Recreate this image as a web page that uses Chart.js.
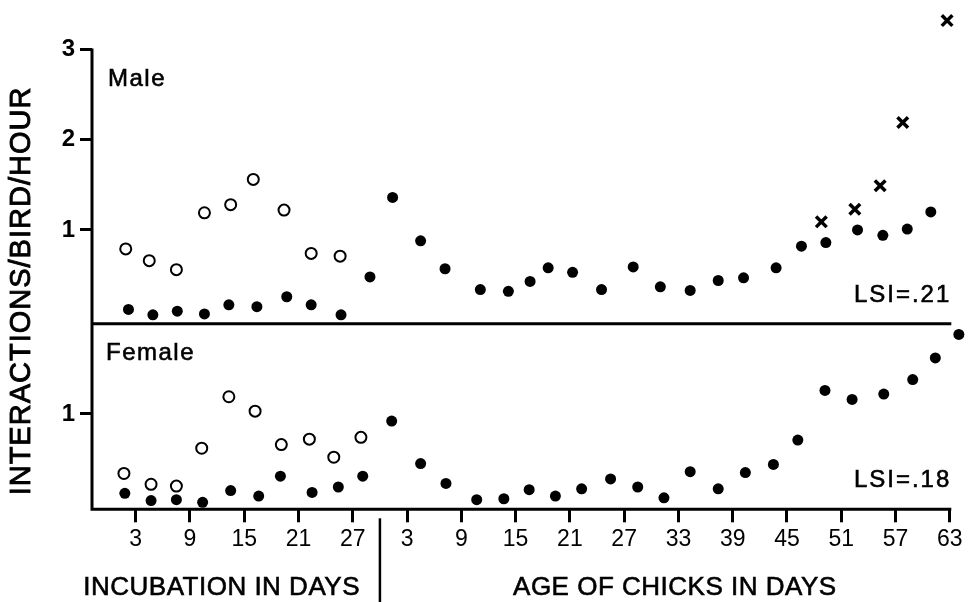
<!DOCTYPE html>
<html>
<head>
<meta charset="utf-8">
<title>Interactions per bird per hour</title>
<script src="https://cdn.jsdelivr.net/npm/chart.js@4.4.1/dist/chart.umd.min.js"></script>
<style>
  html, body { margin: 0; padding: 0; background: #fff; }
  #wrap { width: 974px; height: 602px; }
</style>
</head>
<body>
<div id="wrap"><canvas id="chart" width="974" height="602"></canvas></div>
<script>
// incubation runs to day 30, chick ages are plotted after it on the same axis
const HATCH = 30;
const FONT = "'Liberation Sans', Arial, Helvetica, sans-serif";

const incubationTicks = [3, 9, 15, 21, 27];
const chickTicks = [3, 9, 15, 21, 27, 33, 39, 45, 51, 57, 63];
const maleTicks = [1, 2, 3];
const femaleTicks = [1];

// ---- male ----
const maleIncOpenDays = [1.9, 4.5, 7.5, 10.6, 13.5, 16.0, 19.4, 22.4, 25.6];
const maleIncOpen = [0.79, 0.66, 0.56, 1.19, 1.28, 1.56, 1.22, 0.74, 0.71];
const maleIncDays = [2.2, 4.9, 7.6, 10.6, 13.3, 16.4, 19.7, 22.4, 25.7, 28.9];
const maleInc = [0.12, 0.06, 0.10, 0.07, 0.17, 0.15, 0.26, 0.17, 0.06, 0.48];
const maleChickDays = [1.4, 4.5, 7.2, 11.1, 14.2, 16.6, 18.6, 21.3, 24.5, 28.0, 31.0,
  34.3, 37.4, 40.2, 43.8, 46.6, 49.3, 52.8, 55.6, 58.3, 60.9];
const maleChick = [1.36, 0.88, 0.57, 0.34, 0.32, 0.43, 0.58, 0.53, 0.34, 0.59, 0.37,
  0.33, 0.44, 0.47, 0.58, 0.82, 0.86, 1.00, 0.94, 1.01, 1.20];
const maleCrossDays = [48.8, 52.5, 55.3, 57.8, 62.7];
const maleCross = [1.09, 1.23, 1.49, 2.19, 3.32];

// ---- female ----
const femaleIncOpenDays = [1.7, 4.7, 7.5, 10.3, 13.3, 16.2, 19.1, 22.2, 24.9, 27.9];
const femaleIncOpen = [0.34, 0.22, 0.20, 0.62, 1.19, 1.03, 0.66, 0.72, 0.52, 0.74];
const femaleIncDays = [1.8, 4.7, 7.5, 10.4, 13.5, 16.6, 19.0, 22.5, 25.4, 28.1];
const femaleInc = [0.12, 0.04, 0.05, 0.02, 0.15, 0.09, 0.31, 0.13, 0.19, 0.31];
const femaleChickDays = [1.3, 4.5, 7.3, 10.7, 13.7, 16.5, 19.4, 22.3, 25.5, 28.5, 31.4,
  34.3, 37.4, 40.4, 43.5, 46.2, 49.2, 52.2, 55.7, 58.9, 61.4, 64.0];
const femaleChick = [0.92, 0.45, 0.23, 0.05, 0.06, 0.16, 0.09, 0.17, 0.28, 0.19, 0.07,
  0.36, 0.17, 0.35, 0.44, 0.71, 1.26, 1.16, 1.22, 1.38, 1.62, 1.88];

function pts(days, values, offset) {
  return days.map((d, i) => ({ x: d + (offset || 0), y: values[i] }));
}

const filled = { pointStyle: 'circle', pointRadius: 5.5, pointHoverRadius: 5.5,
  pointBackgroundColor: '#000', pointBorderWidth: 0, clip: false };
const open = { pointStyle: 'circle', pointRadius: 5.5, pointHoverRadius: 5.5,
  pointBackgroundColor: '#fff', pointBorderColor: '#000', pointBorderWidth: 2, clip: false };
const cross = { pointStyle: 'crossRot', pointRadius: 7.5, pointHoverRadius: 7.5,
  pointBorderColor: '#000', pointBorderWidth: 3.5, clip: false };

// draws text with a thin outline so it prints a little heavier
function heavyText(ctx, text, x, y) {
  ctx.fillText(text, x, y);
  ctx.strokeText(text, x, y);
}

// axis frame, panel divider and the free text labels
const framePlugin = {
  id: 'frame',
  beforeDatasetsDraw(chart) {
    const { ctx, scales: { x, yM, yF } } = chart;
    const left = chart.chartArea.left;
    const right = x.getPixelForValue(HATCH + 63) + 1.5;
    const top = yM.getPixelForValue(3);
    const divider = yF.top;
    const bottom = yF.bottom;
    const hatch = x.getPixelForValue(HATCH);

    ctx.save();
    ctx.strokeStyle = '#000';
    ctx.lineWidth = 3;
    ctx.beginPath();
    ctx.moveTo(left, top - 1);
    ctx.lineTo(left, bottom);
    ctx.lineTo(right, bottom);
    ctx.moveTo(left, divider);
    ctx.lineTo(right, divider);
    ctx.stroke();

    ctx.lineWidth = 2.5;
    ctx.beginPath();
    ctx.moveTo(hatch, bottom + 9);
    ctx.lineTo(hatch, chart.height);
    ctx.stroke();

    ctx.fillStyle = '#000';
    ctx.lineWidth = 0.6;
    ctx.textBaseline = 'middle';

    ctx.font = '24px ' + FONT;
    ctx.letterSpacing = '1.5px';
    ctx.textAlign = 'left';
    heavyText(ctx, 'Male', left + 16, top + 30);
    heavyText(ctx, 'Female', left + 14, divider + 30);
    ctx.textAlign = 'right';
    ctx.letterSpacing = '2px';
    heavyText(ctx, 'LSI=.21', right, divider - 28);
    heavyText(ctx, 'LSI=.18', right, bottom - 29);

    ctx.font = '26px ' + FONT;
    ctx.letterSpacing = '0.5px';
    ctx.textAlign = 'center';
    heavyText(ctx, 'INCUBATION IN DAYS', x.getPixelForValue(12.5), 588);
    heavyText(ctx, 'AGE OF CHICKS IN DAYS', x.getPixelForValue(HATCH + 32.6), 588);

    ctx.translate(22, 291);
    ctx.rotate(-Math.PI / 2);
    ctx.font = '29px ' + FONT;
    ctx.letterSpacing = '1px';
    ctx.lineWidth = 0.9;
    heavyText(ctx, 'INTERACTIONS/BIRD/HOUR', 0, 0);
    ctx.restore();
  }
};

function yAxis(ticks, min, max, weight, order) {
  return {
    type: 'linear',
    position: 'left',
    stack: 'panels',
    stackWeight: weight,
    weight: order,
    min: min,
    max: max,
    border: { display: false },
    grid: { drawOnChartArea: false, drawTicks: true, tickLength: 12, color: '#000', lineWidth: 3 },
    ticks: { padding: 5, color: '#000', font: { family: FONT, size: 24, weight: 'bold' } },
    afterBuildTicks: s => { s.ticks = ticks.map(v => ({ value: v })); },
    afterFit: s => { s.width = 92; s.paddingTop = 0; s.paddingBottom = 0; }
  };
}

new Chart(document.getElementById('chart'), {
  type: 'scatter',
  data: {
    datasets: [
      { ...open, data: pts(maleIncOpenDays, maleIncOpen), yAxisID: 'yM' },
      { ...filled, data: pts(maleIncDays, maleInc), yAxisID: 'yM' },
      { ...filled, data: pts(maleChickDays, maleChick, HATCH), yAxisID: 'yM' },
      { ...cross, data: pts(maleCrossDays, maleCross, HATCH), yAxisID: 'yM' },
      { ...open, data: pts(femaleIncOpenDays, femaleIncOpen), yAxisID: 'yF' },
      { ...filled, data: pts(femaleIncDays, femaleInc), yAxisID: 'yF' },
      { ...filled, data: pts(femaleChickDays, femaleChick, HATCH), yAxisID: 'yF' }
    ]
  },
  options: {
    responsive: false,
    animation: false,
    events: [],
    layout: { padding: { top: 8, right: 5, left: 0, bottom: 0 } },
    plugins: { legend: { display: false }, tooltip: { enabled: false } },
    scales: {
      x: {
        type: 'linear',
        min: -1.83,
        max: 94.46,
        border: { display: false },
        grid: { drawOnChartArea: false, drawTicks: true, tickLength: 13, color: '#000', lineWidth: 3 },
        ticks: {
          autoSkip: false,
          maxRotation: 0,
          padding: 4,
          color: '#000',
          font: { family: FONT, size: 23 },
          callback: v => (v > HATCH ? v - HATCH : v)
        },
        afterBuildTicks: s => {
          s.ticks = incubationTicks.concat(chickTicks.map(t => t + HATCH)).map(v => ({ value: v }));
        },
        afterFit: s => { s.height = 92.7; s.paddingLeft = 0; s.paddingRight = 0; }
      },
      yM: yAxis(maleTicks, -0.04, 3.426, 314.7, 1),
      yF: yAxis(femaleTicks, -0.057, 1.998, 186.6, 0)
    }
  },
  plugins: [framePlugin]
});
</script>
</body>
</html>
